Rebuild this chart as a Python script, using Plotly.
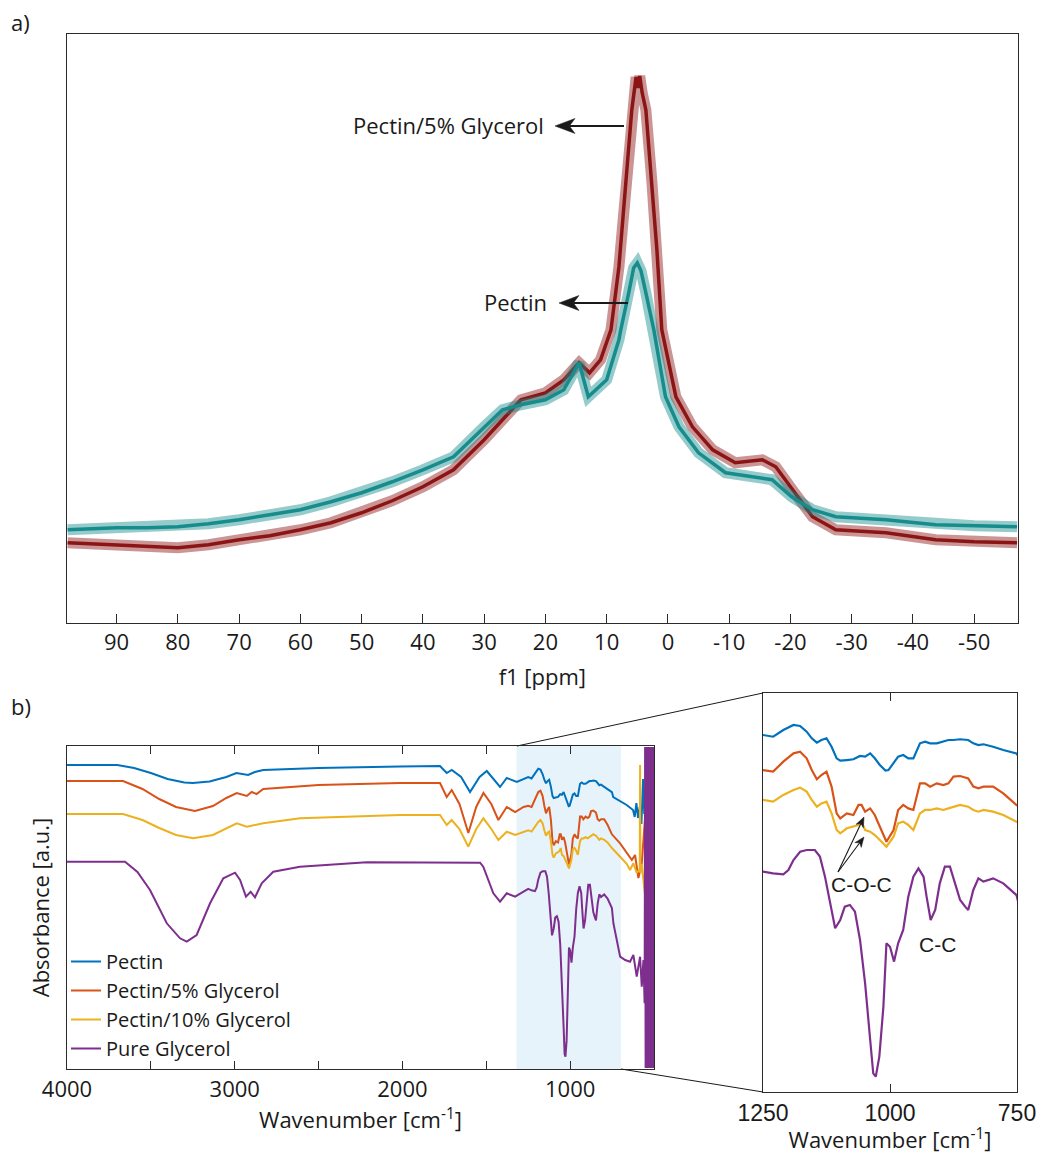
import math
import plotly.graph_objects as go

# ---------------- Panel a) NMR spectra ----------------
glyc5_ppm = [98, 94, 90, 85, 80, 75, 70, 65, 60, 55, 50, 45, 40, 35, 30, 27, 24, 20, 17, 14.5, 12.8, 11,
             9.3, 8.0, 6.9, 5.9, 5.2, 4.9, 4.6, 4.2, 3.6, 2.6, 1.8, 1.0, -1.3, -4, -7.3, -11,
             -15.4, -17.6, -20.3, -23.6, -27.4, -35.6, -43.7, -50, -57]
glyc5_int = [80, 79, 78, 76, 75, 78, 83, 87, 93, 100, 110, 122, 136, 153, 183, 203, 223, 230, 243, 260, 250, 263,
             293, 356, 440, 513, 546, 535, 547, 530, 513, 440, 373, 293, 226, 196, 173, 160,
             163, 156, 133, 106, 93, 90, 83, 81, 80]

pectin_ppm = [98, 94, 90, 85, 80, 75, 70, 65, 60, 55, 50, 45, 40, 35, 30, 27, 24, 20, 17, 14.5, 13, 11, 10,
              8, 7.7, 6.4, 5.6, 5.0, 4.4, 3.6, 2.3, 0.4, -1.8, -5, -9.4, -13.8, -17, -20.2, -23.6,
              -27.4, -35.6, -43.7, -50, -57]
pectin_int = [93, 94, 95, 95, 96, 99, 103, 108, 113, 121, 130, 141, 153, 166, 196, 213, 218, 223, 233, 260, 226, 238, 243,
              283, 293, 330, 355, 360, 352, 330, 293, 226, 196, 170, 150, 146, 143, 126, 113,
              106, 103, 98, 97, 96]

nmr_tickvals = [90, 80, 70, 60, 50, 40, 30, 20, 10, 0, -10, -20, -30, -40, -50]
nmr_ticktext = ["90", "80", "70", "60", "50", "40", "30", "20", "10", "0",
                "-10", "-20", "-30", "-40", "-50"]

# ---------------- Panel b) FTIR spectra ----------------
pectin_wn = [4000, 3700, 3600, 3500, 3400, 3300, 3250, 3150, 3050, 2990,
             2920, 2880, 2830, 2500, 2014, 1776, 1736, 1706, 1650, 1597,
             1540, 1497, 1418, 1378, 1318,
             1250, 1230, 1210, 1190, 1177, 1164, 1154, 1144, 1135, 1125,
             1115, 1105, 1098, 1085, 1072, 1059, 1049, 1039, 1030, 1020,
             1009, 1003, 993, 984, 974, 964, 954, 941, 931, 921,
             908, 895, 885, 875, 862, 846, 836, 826, 816, 797,
             777, 751,
             743, 702, 663, 625, 615, 605, 595, 585, 575, 565,
             558, 550, 540, 530, 520, 510, 500]
pectin_abs = [304, 304, 301, 296, 290, 286.5, 286, 287.5, 292, 296,
              294, 297, 299, 301, 302.5, 303, 296, 299, 292, 277,
              292, 298, 282, 291, 287,
              292, 290.6, 296.1, 300.2, 299.4, 294.7, 289.3, 285.7, 287.9, 289.3,
              282.4, 272.9, 271, 271.5, 272.1, 274.8, 274.3, 277, 272.9, 267.4,
              262.8, 263.3, 268.8, 274.3, 275.6, 272.9, 272.9, 285.2, 286.5, 285.2,
              285.2, 286.5, 287.9, 287.9, 288.5, 287.9, 285.2, 283.8, 284.4, 282.4,
              279.7, 276.9,
              272, 268, 264, 259, 252, 266, 251, 262, 245, 290,
              255, 280, 260, 275, 250, 270, 260]

glyc5_wn = [4000, 3666, 3550, 3450, 3350, 3237, 3130, 3050, 2988, 2928,
            2899, 2870, 2830, 2500, 2014, 1776, 1736, 1706, 1660, 1607,
            1560, 1517, 1470, 1428, 1378, 1328, 1278,
            1250, 1230, 1210, 1190, 1177, 1164, 1154, 1144, 1135, 1125,
            1115, 1105, 1098, 1085, 1072, 1062, 1056, 1049, 1039, 1030,
            1020, 1007, 993, 984, 974, 964, 954, 941, 931, 921,
            908, 895, 885, 875, 862, 846, 836, 826, 816, 797,
            777, 751,
            702, 662, 632, 613, 593, 573, 553, 548, 543, 535,
            525, 515, 505, 500]
glyc5_abs = [288, 288, 280, 270, 262, 258, 263, 271, 276, 273,
             277, 275, 280, 284, 286, 286, 272, 279, 265, 236,
             262, 276, 265, 249, 262, 257, 262,
             263.3, 262, 270.2, 277, 278.3, 272.9, 263.3, 255.7, 259.2, 262,
             249.7, 227.8, 223.7, 227.8, 226.5, 234.7, 234.7, 229.2, 231.9, 226.5,
             216.9, 204.6, 214.2, 230.6, 234.7, 231.9, 230.6, 252.4, 252.4, 249.7,
             252.4, 251, 252.4, 257.9, 258.4, 256.5, 249.7, 248.3, 249.7, 249.7,
             244.2, 234.7,
             225.7, 215.7, 209, 214, 191, 206, 252, 170, 240, 200,
             225, 210, 230, 220]

glyc10_wn = [4000, 3666, 3550, 3450, 3350, 3248, 3130, 3050, 2988, 2928,
             2830, 2610, 2014, 1776, 1736, 1706, 1660, 1607, 1560, 1517,
             1470, 1428, 1378, 1328, 1278,
             1250, 1230, 1210, 1190, 1177, 1164, 1154, 1144, 1135, 1125,
             1115, 1105, 1098, 1085, 1072, 1062, 1056, 1049, 1039, 1030,
             1020, 1007, 993, 984, 974, 964, 954, 941, 931, 921,
             908, 895, 885, 875, 862, 846, 836, 826, 816, 797,
             777, 751,
             702, 662, 643, 623, 603, 588, 585, 583, 581, 573,
             563, 555, 548, 540, 520, 500]
glyc10_abs = [255, 255, 249, 241, 234, 230.7, 234, 241, 245.7, 242.3,
              245.7, 250.7, 254, 254, 244, 249, 240, 222.3, 240, 250.7,
              240, 229, 237.3, 234, 237.3,
              238.8, 237.4, 242.9, 247, 248.9, 245.6, 238.8, 233.3, 236, 237.4,
              227.8, 214.2, 211.5, 215.6, 216.9, 218.3, 221, 214.2, 212.8, 210.1,
              206, 200.5, 208.7, 219.7, 221, 218.3, 214.2, 227.8, 230.6, 230.6,
              231.9, 230.6, 231.9, 233.3, 234.7, 233.3, 230.6, 229.2, 230.6, 229.2,
              226.5, 221,
              212.3, 205, 199, 205.7, 196, 200, 200, 304, 196, 205,
              190, 176, 210, 200, 215, 210]

pure_wn = [4000, 3654, 3580, 3505, 3405, 3326, 3286, 3227, 3147, 3068,
           2998, 2968, 2933, 2905, 2879, 2839, 2770, 2611, 2213, 1537,
           1518, 1488, 1458, 1418, 1378, 1328, 1290, 1259,
           1250, 1230, 1210, 1200, 1190, 1177, 1164, 1148, 1138, 1128,
           1118, 1108, 1098, 1089, 1079, 1069, 1059, 1049, 1039, 1033,
           1028, 1021, 1013, 1007, 1000, 992, 984, 974, 964, 954,
           944, 934, 928, 920, 911, 902, 892, 882, 872, 862,
           852, 846, 836, 826, 816, 806, 797, 777, 751,
           742, 702, 672, 643, 623, 603, 583, 573, 563, 556,
           553, 550, 547, 544, 541, 538, 535, 532, 529, 526,
           523, 520, 517, 514, 511, 508, 505, 502, 500]
pure_abs = [207.3, 207.3, 197, 179, 145.7, 130.7, 127.3, 134, 165.7, 190.7,
            196.3, 189, 172.3, 177.3, 171.7, 185.7, 197.3, 202.3, 206.7, 206.3,
            202.3, 189, 175.7, 167.3, 175.7, 172.3, 176, 179,
            180.1, 178.7, 177.9, 181.4, 189.6, 196.4, 197.8, 197.8, 192.4, 176,
            154.1, 133.7, 140.5, 151.4, 152.8, 147.3, 124.1, 88.6, 42.2, 14.9,
            12.2, 28.6, 69.5, 121.4, 118.6, 106.4, 121.4, 132.3, 159.6, 176,
            182.8, 176, 159.6, 140.5, 148.7, 170.5, 184.2, 184.2, 170.5, 156.9,
            151.4, 148.7, 165.1, 174.6, 171.9, 173.2, 174.6, 170.5, 160.9,
            145.7, 112.3, 109, 107.3, 114, 92.3, 112.3, 82.3, 109, 65.7,
            322, 1, 322, 1, 322, 1, 322, 1, 322, 1,
            322, 1, 322, 1, 322, 1, 322, 1, 322]

ftir_tickvals = [4000, 3000, 2000, 1000]
ftir_ticktext = ["4000", "3000", "2000", "1000"]
ftir_minor_tickvals = [3500, 2500, 1500]
inset_tickvals = [1250, 1000, 750]
inset_ticktext = ["1250", "1000", "750"]

ftir_series = [
    ("Pectin", pectin_wn, pectin_abs, "#0072BD"),
    ("Pectin/5% Glycerol", glyc5_wn, glyc5_abs, "#D95319"),
    ("Pectin/10% Glycerol", glyc10_wn, glyc10_abs, "#EDB120"),
    ("Pure Glycerol", pure_wn, pure_abs, "#7E2F8E"),
]

W, H = 1040, 1154
def px(x):
    return x / W
def py(y):
    return 1 - y / H

AX = "#2b2b2b"
FONT = "Open Sans"

fig = go.Figure()

# Panel a traces: a translucent wide band (noise envelope look) + a solid core
for xs, ys, band, core, nm in [
    (glyc5_ppm, glyc5_int, "rgba(139,20,20,0.45)", "rgb(139,20,20)", "Pectin/5% Glycerol"),
    (pectin_ppm, pectin_int, "rgba(22,140,140,0.45)", "rgb(22,140,140)", "Pectin"),
]:
    fig.add_trace(go.Scatter(x=xs, y=ys, mode="lines", name=nm, showlegend=False, hoverinfo="skip",
                             line=dict(color=band, width=11), xaxis="x", yaxis="y"))
    fig.add_trace(go.Scatter(x=xs, y=ys, mode="lines", name=nm, showlegend=False,
                             line=dict(color=core, width=3.5), xaxis="x", yaxis="y"))

# Panel b main traces + inset traces
for name, wn, ab, col in ftir_series:
    fig.add_trace(go.Scatter(x=wn, y=ab, mode="lines", name=name,
                             line=dict(color=col, width=2), xaxis="x2", yaxis="y2"))
for name, wn, ab, col in ftir_series:
    fig.add_trace(go.Scatter(x=wn, y=ab, mode="lines", name=name, showlegend=False,
                             line=dict(color=col, width=2.2), xaxis="x3", yaxis="y3"))

common_line = dict(showline=True, linecolor=AX, linewidth=1.3, showgrid=False, zeroline=False,
                   automargin=False)

fig.update_layout(
    width=W, height=H,
    margin=dict(l=0, r=0, t=0, b=0, autoexpand=False),
    paper_bgcolor="white", plot_bgcolor="white",
    font=dict(family=FONT, size=22, color="#1a1a1a"),
    xaxis=dict(domain=[px(67), px(1017.7)], range=[98.1, -57.1], anchor="y",
               tickmode="array", tickvals=nmr_tickvals, ticktext=nmr_ticktext,
               ticks="inside", ticklen=9, tickwidth=1.2, tickcolor=AX, mirror=True,
               tickfont=dict(family=FONT, size=22),
               title=dict(text="f1 [ppm]", font=dict(family=FONT, size=22), standoff=14),
               **common_line),
    yaxis=dict(domain=[py(622.7), py(34)], range=[0, 589], anchor="x",
               showticklabels=False, ticks="", mirror=True, **common_line),
    xaxis2=dict(domain=[px(67), px(654)], range=[4000, 500], anchor="y2",
                tickmode="array", tickvals=ftir_tickvals, ticktext=ftir_ticktext,
                ticks="inside", ticklen=8, tickwidth=1.2, tickcolor=AX, mirror="ticks",
                minor=dict(tickmode="array", tickvals=ftir_minor_tickvals, ticks="inside",
                           ticklen=8, tickwidth=1.2, tickcolor=AX, showgrid=False),
                tickfont=dict(family=FONT, size=22),
                title=dict(text="Wavenumber [cm<sup>-1</sup>]", font=dict(family=FONT, size=22), standoff=4),
                **common_line),
    yaxis2=dict(domain=[py(1069), py(746)], range=[0, 323], anchor="x2",
                showticklabels=False, ticks="", mirror=True,
                title=dict(text="Absorbance [a.u.]", font=dict(family=FONT, size=22), standoff=10),
                **common_line),
    xaxis3=dict(domain=[px(763), px(1017)], range=[1250, 750], anchor="y3",
                tickmode="array", tickvals=inset_tickvals, ticktext=inset_ticktext,
                ticks="inside", ticklen=8, tickwidth=1.2, tickcolor=AX, mirror="ticks",
                tickfont=dict(family="Liberation Sans", size=23),
                title=dict(text="Wavenumber [cm<sup>-1</sup>]", font=dict(family=FONT, size=22), standoff=2),
                **common_line),
    yaxis3=dict(domain=[py(1092), py(693)], range=[-0.4, 326.4], anchor="x3",
                showticklabels=False, ticks="", mirror=True, **common_line),
    legend=dict(x=px(66), y=py(942), xanchor="left", yanchor="top",
                bgcolor="rgba(0,0,0,0)", borderwidth=0, font=dict(family=FONT, size=20),
                tracegroupgap=0),
    showlegend=True,
)

# Highlighted region in the main FTIR panel and zoom connector lines
fig.add_shape(type="rect", xref="x2", yref="y2 domain", x0=1320, x1=697, y0=0, y1=1,
              fillcolor="#E7F3FB", line=dict(width=0), layer="below")
fig.add_shape(type="line", xref="paper", yref="paper", x0=px(517), y0=py(746), x1=px(763), y1=py(693),
              line=dict(color="#1a1a1a", width=1))
fig.add_shape(type="line", xref="paper", yref="paper", x0=px(621), y0=py(1069), x1=px(763), y1=py(1092),
              line=dict(color="#1a1a1a", width=1))


def add_arrow(tail, head, head_len, head_w, lw):
    """Arrow drawn as a line shape plus a notched filled head (pixel coords -> paper)."""
    (x0, y0), (x1, y1) = tail, head
    d = math.hypot(x1 - x0, y1 - y0)
    ux, uy = (x1 - x0) / d, (y1 - y0) / d
    nx, ny = -uy, ux
    bx, by = x1 - head_len * ux, y1 - head_len * uy
    mx, my = x1 - 0.72 * head_len * ux, y1 - 0.72 * head_len * uy
    fig.add_shape(type="line", xref="paper", yref="paper",
                  x0=px(x0), y0=py(y0), x1=px(mx), y1=py(my),
                  line=dict(color="#1a1a1a", width=lw))
    pts = [(x1, y1), (bx + nx * head_w / 2, by + ny * head_w / 2), (mx, my),
           (bx - nx * head_w / 2, by - ny * head_w / 2)]
    path = "M " + " L ".join(f"{px(a):.5f},{py(b):.5f}" for a, b in pts) + " Z"
    fig.add_shape(type="path", xref="paper", yref="paper", path=path,
                  fillcolor="#1a1a1a", line=dict(color="#1a1a1a", width=0.5))


add_arrow((624, 126), (555, 126), 20, 15, 2)
add_arrow((628, 303), (559, 303), 20, 15, 2)
add_arrow((838, 872), (864, 817), 10, 8, 1.1)
add_arrow((838, 872), (864, 837), 10, 8, 1.1)

annos = [
    dict(text="a)", x=px(9), y=py(22), xanchor="left", yanchor="middle",
         font=dict(family=FONT, size=22)),
    dict(text="b)", x=px(9), y=py(706), xanchor="left", yanchor="middle",
         font=dict(family=FONT, size=22)),
    dict(text="Pectin/5% Glycerol", x=px(546), y=py(125), xanchor="right", yanchor="middle",
         font=dict(family=FONT, size=22)),
    dict(text="Pectin", x=px(549), y=py(302), xanchor="right", yanchor="middle",
         font=dict(family=FONT, size=22)),
    dict(text="C-O-C", x=px(861), y=py(884), xanchor="center", yanchor="middle",
         font=dict(family="Liberation Sans", size=21)),
    dict(text="C-C", x=px(937), y=py(944), xanchor="center", yanchor="middle",
         font=dict(family="Liberation Sans", size=21)),
]
for a in annos:
    fig.add_annotation(xref="paper", yref="paper", showarrow=False, **a)

fig.write_html("out.html")
